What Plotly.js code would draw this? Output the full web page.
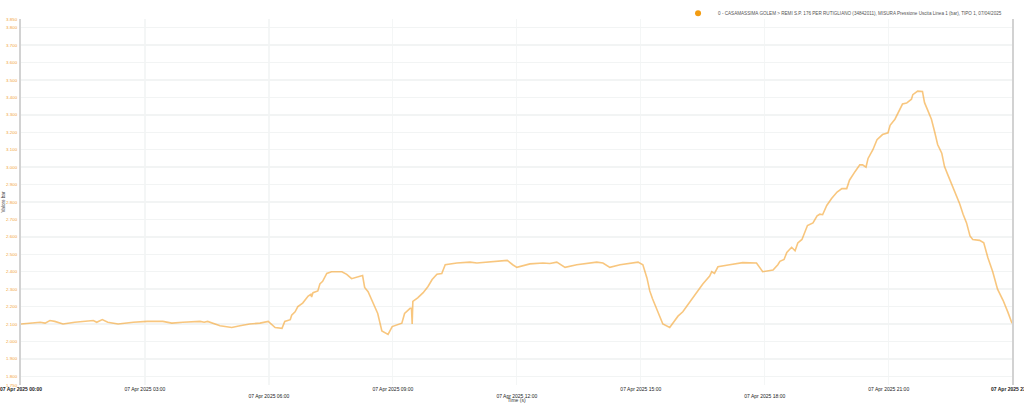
<!DOCTYPE html>
<html>
<head>
<meta charset="utf-8">
<script src="https://cdn.plot.ly/plotly-3.0.1.min.js"></script>
<style>
html,body{margin:0;padding:0;background:#fff;}
#chart{width:1024px;height:403px;}
</style>
</head>
<body>
<div id="chart"></div>
<script>
const day = "2025-04-07";
const seriesName = "0 - CASAMASSIMA GOLEM > REMI S.P. 176 PER RUTIGLIANO (34842011), MISURA Pressione Uscita Linea 1 (bar), TIPO 1, 07/04/2025";

const times = [
"00:00","00:28","00:35","00:42","00:49","01:01","01:18","01:36","01:45","01:50","01:58","02:06","02:21","02:43",
"03:03","03:26","03:39","03:55","04:20","04:26","04:31","04:49","05:06","05:18","05:32","05:47","05:59",
"06:09","06:19","06:23","06:31","06:33","06:38","06:42","06:49","06:57","07:01","07:02","07:04","07:11","07:14","07:18","07:24","07:31","07:46","07:53",
"08:00","08:16","08:19","08:24","08:30","08:34","08:38","08:44","08:53","08:59",
"09:06","09:13","09:17","09:25","09:27","09:28","09:29","09:36","09:44","09:51","09:57",
"10:04","10:11","10:16","10:33","10:52","11:02","11:21","11:46","11:54",
"12:00","12:19","12:38","12:48","12:58","13:10","13:27","13:56","14:05","14:15","14:30","14:56",
"15:03","15:09","15:13","15:17","15:23","15:28","15:32","15:42","15:47","15:54","16:01","16:11","16:21","16:30","16:40","16:43","16:47","16:52",
"17:09","17:28","17:48","17:57","18:12","18:19","18:22","18:28","18:32","18:39","18:44","18:48","18:54","18:58",
"19:02","19:10","19:16","19:20","19:24","19:30","19:37","19:45","19:52","19:59",
"20:03","20:11","20:18","20:22","20:27","20:30","20:37","20:43","20:51","20:59",
"21:02","21:09","21:16","21:20","21:26","21:33","21:35","21:42","21:49","21:52","21:57",
"22:02","22:07","22:11","22:17","22:21","22:26","22:32","22:39","22:43","22:48","22:53","22:58",
"23:02","23:12","23:18","23:24","23:31","23:38","23:46","23:53","23:59"
];

const pressure = [
2.100,2.110,2.105,2.120,2.115,2.100,2.110,2.115,2.120,2.110,2.125,2.110,2.100,2.110,
2.115,2.115,2.105,2.110,2.115,2.110,2.115,2.090,2.080,2.090,2.100,2.105,2.115,
2.080,2.075,2.115,2.125,2.150,2.170,2.200,2.220,2.260,2.270,2.255,2.280,2.290,2.330,2.345,2.390,2.400,2.400,2.385,
2.360,2.378,2.310,2.285,2.230,2.190,2.160,2.060,2.040,2.085,
2.095,2.105,2.160,2.190,2.190,2.100,2.230,2.250,2.280,2.315,2.355,
2.385,2.390,2.440,2.450,2.455,2.450,2.455,2.465,2.440,
2.425,2.445,2.450,2.447,2.455,2.425,2.440,2.455,2.450,2.425,2.440,2.455,
2.440,2.363,2.290,2.245,2.190,2.145,2.100,2.080,2.110,2.145,2.170,2.225,2.280,2.330,2.375,2.400,2.390,2.428,
2.440,2.452,2.450,2.400,2.410,2.440,2.460,2.470,2.510,2.540,2.520,2.565,2.585,2.625,
2.665,2.680,2.720,2.730,2.727,2.780,2.820,2.857,2.877,2.877,
2.925,2.974,3.013,3.013,3.000,3.050,3.100,3.158,3.187,3.197,
3.240,3.275,3.333,3.362,3.368,3.390,3.416,3.436,3.434,3.370,3.323,
3.275,3.197,3.130,3.080,3.003,2.954,2.896,2.828,2.790,2.730,2.680,2.605,
2.585,2.580,2.566,2.480,2.400,2.300,2.236,2.168,2.104
];

const xTickTimes = ["00:00","03:00","06:00","09:00","12:00","15:00","18:00","21:00","23:59"];
const xTickLabels = ["07 Apr 2025 00:00","07 Apr 2025 03:00","07 Apr 2025 06:00","07 Apr 2025 09:00","07 Apr 2025 12:00","07 Apr 2025 15:00","07 Apr 2025 18:00","07 Apr 2025 21:00","07 Apr 2025 23:59"];
const yTickValues = [1.75,1.8,1.9,2.0,2.1,2.2,2.3,2.4,2.5,2.6,2.7,2.8,2.9,3.0,3.1,3.2,3.3,3.4,3.5,3.6,3.7,3.8,3.85];

const xs = times.map(t => day + " " + t);
const tickVals = xTickTimes.map(t => day + " " + t);
const lowered = new Set([2,4,6]);
const tickText = xTickLabels.map((s,i) => {
  let txt = (i === 0 || i === xTickLabels.length-1) ? "<b>" + s + "</b>" : s;
  return lowered.has(i) ? "<span style='font-size:3px'> </span><br>" + txt : txt;
});

const traces = [
  {
    x: xs, y: pressure, type: "scatter", mode: "lines",
    line: {color: "rgba(243,160,40,0.6)", width: 1.6},
    showlegend: false, hoverinfo: "x+y"
  },
  {
    x: [null], y: [null], type: "scatter", mode: "markers",
    name: seriesName,
    marker: {color: "#f39c12", size: 6, symbol: "circle"},
    showlegend: true
  }
];

const layout = {
  width: 1024, height: 403,
  margin: {l: 21, r: 12, t: 19, b: 18, pad: 0, autoexpand: false},
  paper_bgcolor: "#ffffff", plot_bgcolor: "#ffffff",
  font: {family: "Liberation Sans, Arial, sans-serif", size: 5, color: "#333"},
  showlegend: true,
  legend: {
    orientation: "h", x: 0.995, xanchor: "right", y: 1.055, yanchor: "top",
    font: {size: 4.6, color: "#555"}, bgcolor: "rgba(0,0,0,0)",
    itemwidth: 30, tracegroupgap: 0
  },
  xaxis: {
    type: "date",
    range: [day + " 00:00", day + " 23:59"],
    tickmode: "array", tickvals: tickVals, ticktext: tickText,
    tickfont: {size: 5, color: "#222"},
    ticklabeloverflow: "allow",
    showgrid: true, gridcolor: "#f4f6f6", gridwidth: 1.2,
    showline: false, zeroline: false, ticks: "",
    automargin: false,
    title: {text: "Time (s)", font: {size: 5, color: "#333"}, standoff: 0}
  },
  yaxis: {
    range: [1.75, 3.85],
    tickmode: "array", tickvals: yTickValues,
    tickformat: ".3f",
    tickfont: {size: 4.4, color: "#f2a33a"},
    ticklabelstandoff: 1,
    showgrid: true, gridcolor: "#f2f4f4", gridwidth: 1.5,
    showline: true, linecolor: "#d2d2d2", linewidth: 2, mirror: true,
    zeroline: false, ticks: "",
    automargin: false,
    title: {text: "Valore bar", font: {size: 4.6, color: "#333"}, standoff: 0}
  }
};

Plotly.newPlot("chart", traces, layout, {displayModeBar: false, staticPlot: true});
</script>
</body>
</html>
